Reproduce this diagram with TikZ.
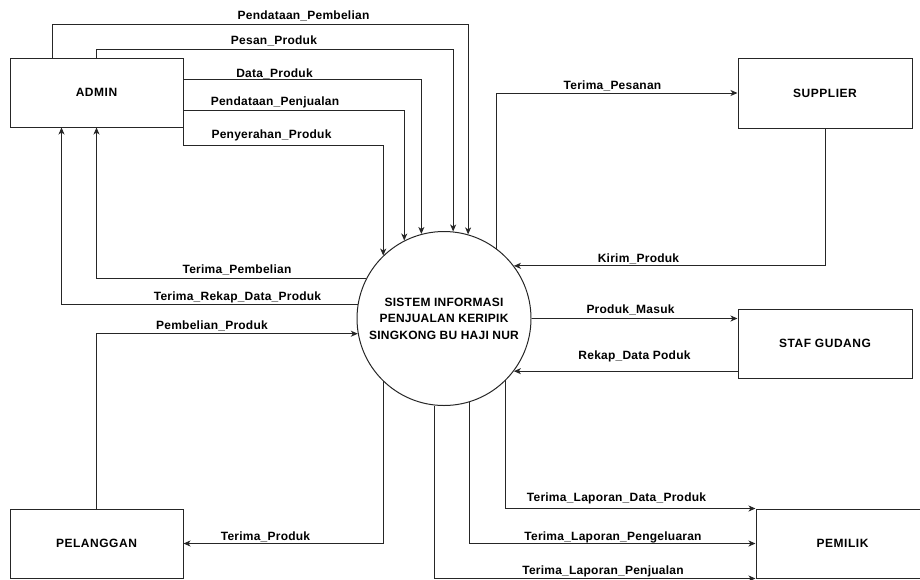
\documentclass[tikz,border=0pt]{standalone}
\usepackage{fontspec}
\setmainfont{Liberation Sans}
\newfontfamily\lblfont[LetterSpace=2]{Liberation Sans}
\newfontfamily\entfont[LetterSpace=4.5]{Liberation Sans}
\usetikzlibrary{arrows.meta}
\begin{document}
\begin{tikzpicture}[x=1pt,y=-1pt,
  ent/.style={draw=black!85, line width=1pt, minimum width=173pt, minimum height=69pt, inner sep=0pt,
    font=\entfont\bfseries\fontsize{12}{15}\selectfont},
  proc/.style={circle, draw=black!85, line width=1pt, minimum size=174pt, inner sep=0pt, align=center,
    font=\lblfont\bfseries\fontsize{12}{16.5}\selectfont},
  lbl/.style={anchor=base, inner sep=0pt, font=\lblfont\bfseries\fontsize{12}{14}\selectfont},
  flow/.style={draw=black!85, line width=1pt, -{Stealth[length=7pt,width=6pt,inset=2pt]}}]
\useasboundingbox (0,0) rectangle (920,579);
% entities
\node[ent] (admin) at (96.5,92.5) {ADMIN};
\node[ent, minimum width=174pt, minimum height=70pt] (supplier) at (825,93) {SUPPLIER};
\node[ent, minimum width=174pt] (staf) at (825,343.5) {STAF GUDANG};
\node[ent] (pelanggan) at (96.5,543.5) {PELANGGAN};
\node[ent] (pemilik) at (842.5,543.5) {PEMILIK};
% process
\node[proc] (proc) at (444,318.5) {SISTEM INFORMASI\\PENJUALAN KERIPIK\\SINGKONG BU HAJI NUR};
% admin flows
\draw[flow] ([xshift=43pt]admin.north west) -- ++(0,-33) -| (proc.74);
\draw[flow] (admin.north) -- ++(0,-8) -| (proc.84);
\draw[flow] (admin.east |- 0,79) -| (proc.105);
\draw[flow] (admin.east |- 0,110) -| (proc.117);
\draw[flow] (admin.south east) -- ++(0,18) -| (proc.134);
\draw[flow] (proc.153) -| (admin.south);
\draw[flow] (proc.171) -| ([xshift=52pt]admin.south west);
% pelanggan
\draw[flow] (pelanggan.north) |- (proc.190);
\draw[flow] (proc.226) |- (pelanggan.east);
% supplier
\draw[flow] (proc.53) |- (supplier.west);
\draw[flow] (supplier.south) |- (proc.37);
% staf gudang
\draw[flow] (proc.east) -- (proc.east -| staf.west);
\draw[flow] (proc.323 -| staf.west) -- (proc.323);
% pemilik
\draw[flow] (proc.315) |- (pemilik.north west);
\draw[flow] (proc.287) |- (pemilik.west);
\draw[flow] (proc.264) |- (pemilik.south west);
% labels
\node[lbl] (l1) at (303.5,19) {Pendataan\_Pembelian};
\node[lbl] (l2) at (274,44) {Pesan\_Produk};
\node[lbl] (l3) at (274.5,77) {Data\_Produk};
\node[lbl] (l4) at (275,105) {Pendataan\_Penjualan};
\node[lbl] (l5) at (271.5,138) {Penyerahan\_Produk};
\node[lbl] (l6) at (237,273.3) {Terima\_Pembelian};
\node[lbl] (l7) at (237.5,300) {Terima\_Rekap\_Data\_Produk};
\node[lbl] (l8) at (212,329) {Pembelian\_Produk};
\node[lbl] (l9) at (612.5,89) {Terima\_Pesanan};
\node[lbl] (l10) at (638.5,262) {Kirim\_Produk};
\node[lbl] (l11) at (630.5,313) {Produk\_Masuk};
\node[lbl] (l12) at (634.5,359) {Rekap\_Data Poduk};
\node[lbl] (l13) at (265.5,540) {Terima\_Produk};
\node[lbl] (l14) at (616.5,501.7) {Terima\_Laporan\_Data\_Produk};
\node[lbl] (l15) at (613,540) {Terima\_Laporan\_Pengeluaran};
\node[lbl] (l16) at (603,574) {Terima\_Laporan\_Penjualan};
\end{tikzpicture}
\end{document}
